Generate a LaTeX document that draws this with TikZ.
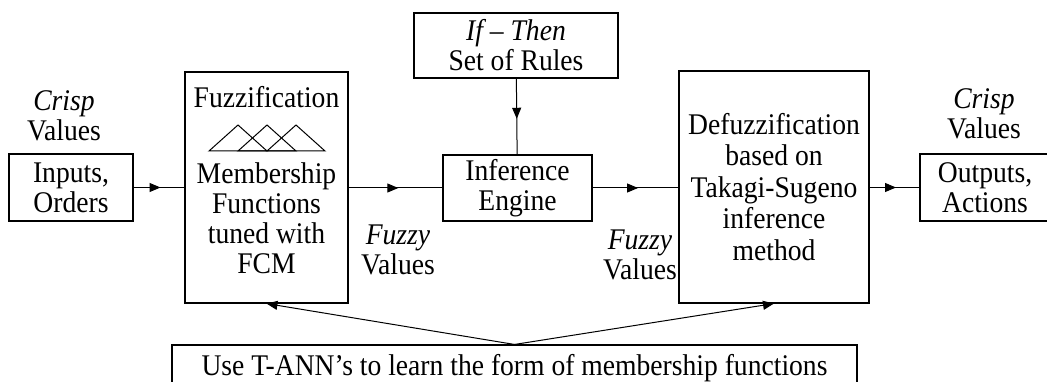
\documentclass[tikz,border=0pt]{standalone}
\usepackage{fontspec}
\setmainfont{Liberation Serif}[FakeStretch=0.92]
\usetikzlibrary{arrows.meta,decorations.markings}

\begin{document}
\begin{tikzpicture}[
  x=1pt,
  y=-1pt,
  every node/.style={font=\fontsize{30}{30}\selectfont, align=center, inner sep=0pt},
  block/.style={draw, line width=1.1pt},
  link/.style={line width=1pt},
  arrow/.style={link, -{Triangle[length=11pt,width=9pt]}},
  midarrow/.style={
    link,
    postaction={decorate},
    decoration={markings, mark=at position 0.53 with {\arrow{Triangle[length=11pt,width=9pt]}}}
  }
]
\useasboundingbox (0,0) rectangle (1047,382);

\node[block, minimum width=124pt, minimum height=67pt] (inputs) at (71,187.5) {Inputs,\\Orders};
\node[block, minimum width=163pt, minimum height=231pt] (fuzz) at (266.5,187.5) {};
\node (fuzztitle) at (266.5,97) {Fuzzification};
\node (fuzzbody) at (266.5,218) {Membership\\Functions\\tuned with\\FCM};
\node[block, minimum width=204pt, minimum height=65pt] (rules) at (516,45.5) {\textit{If – Then}\\Set of Rules};
\node[block, minimum width=149pt, minimum height=66pt] (engine) at (517.5,188) {Inference\\Engine};
\node[block, minimum width=190pt, minimum height=232pt, font=\fontsize{30}{31.5}\selectfont] (defuzz) at (774,187) {Defuzzification\\based on\\Takagi-Sugeno\\inference\\method};
\node[block, minimum width=130pt, minimum height=67pt] (outputs) at (985,187.5) {Outputs,\\Actions};
\node[block, minimum width=685pt, minimum height=47pt] (learn) at (514.5,368.5) {Use T-ANN’s to learn the form of membership functions};

% labels on the data flow
\node (crispin) at (64,116) {\textit{Crisp}\\Values};
\node (crispout) at (984,114) {\textit{Crisp}\\Values};
\node (fuzzyin) at (398,250) {\textit{Fuzzy}\\Values};
\node (fuzzyout) at (640,255) {\textit{Fuzzy}\\Values};

% membership triangles
\foreach \c in {238,267,296}
  \draw[link] (\c-29,151) -- (\c,125) -- (\c+29,151) -- cycle;

\draw[midarrow] (inputs) -- (fuzz);
\draw[midarrow] (fuzz.east |- engine) -- (engine);
\draw[midarrow] (engine) -- (defuzz.west |- engine);
\draw[midarrow] (defuzz.east |- outputs) -- (outputs);
\draw[midarrow] (rules) -- (engine);
\draw[arrow] (learn.north) -- (fuzz.south);
\draw[arrow] (learn.north) -- (defuzz.south);
\end{tikzpicture}
\end{document}
